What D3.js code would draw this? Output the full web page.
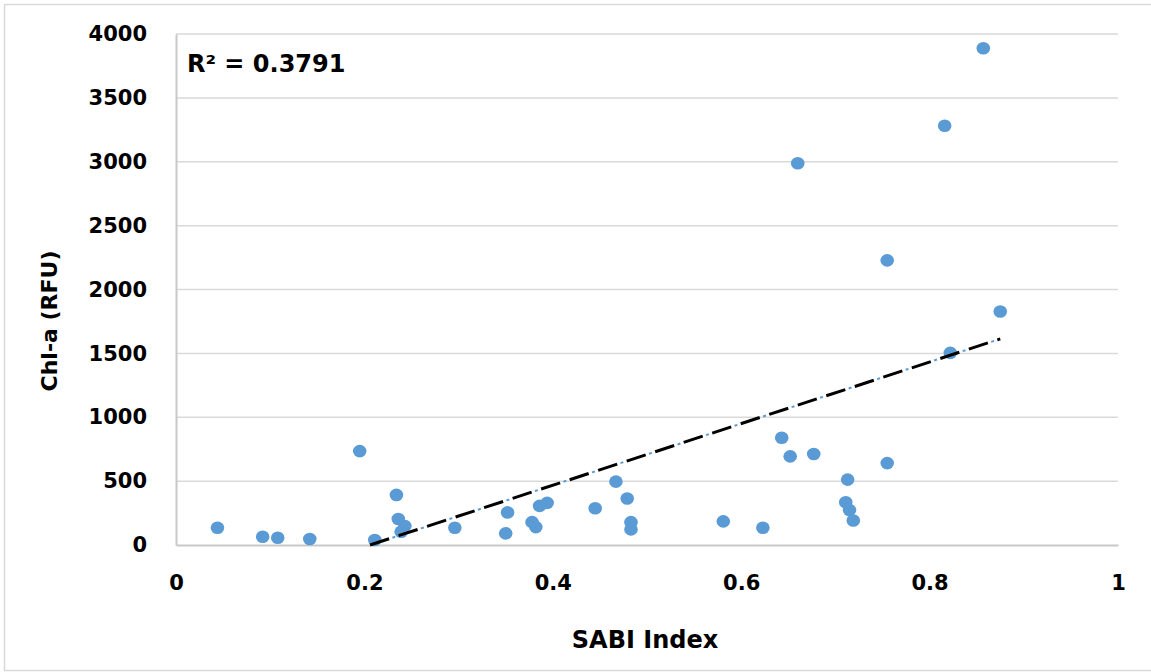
<!DOCTYPE html>
<html>
<head>
<meta charset="utf-8">
<script src="https://cdn.jsdelivr.net/npm/d3@7"></script>
<style>
  body { margin: 0; background: #fff; }
  text { font-family: "DejaVu Sans", sans-serif; font-weight: bold; fill: #000; }
</style>
</head>
<body>
<div id="chart-area"></div>
<script>
// SABI index vs Chl-a
const sabi = [0.044, 0.092, 0.108, 0.142, 0.195, 0.211, 0.234, 0.236, 0.243, 0.239,
  0.296, 0.350, 0.352, 0.378, 0.382, 0.386, 0.394, 0.445, 0.467, 0.479,
  0.483, 0.483, 0.581, 0.623, 0.643, 0.652, 0.677, 0.713, 0.711, 0.715,
  0.719, 0.755, 0.857, 0.816, 0.660, 0.755, 0.875, 0.822]
const chla = [135, 65, 57, 47, 735, 39, 392, 203, 148, 104,
  135, 91, 255, 179, 140, 306, 330, 288, 496, 364,
  179, 122, 185, 135, 839, 694, 712, 512, 335, 273,
  192, 641, 3888, 3282, 2988, 2228, 1828, 1504]
const xTicks = [0, 0.2, 0.4, 0.6, 0.8, 1]
const yTicks = [0, 500, 1000, 1500, 2000, 2500, 3000, 3500, 4000]
const r2Label = "R² = 0.3791"

function main() {
  const W = 1151, H = 672
  const MARGIN = { LEFT: 176, RIGHT: 33, TOP: 34, BOTTOM: 127 }
  const WIDTH = W - MARGIN.LEFT - MARGIN.RIGHT
  const HEIGHT = H - MARGIN.TOP - MARGIN.BOTTOM

  const svg = d3.select("#chart-area").append("svg")
    .attr("width", W)
    .attr("height", H)

  // outer chart border
  svg.append("rect")
    .attr("x", 4.5).attr("y", 4.5)
    .attr("width", W).attr("height", H - 6)
    .attr("fill", "none")
    .attr("stroke", "#d9d9d9")
    .attr("stroke-width", 1.5)

  const g = svg.append("g")
    .attr("transform", `translate(${MARGIN.LEFT}, ${MARGIN.TOP})`)

  const x = d3.scaleLinear().domain([0, 1]).range([0, WIDTH])
  const y = d3.scaleLinear().domain([0, 4000]).range([HEIGHT, 0])

  // gridlines
  g.append("g")
    .selectAll("line")
    .data(yTicks.slice(1))
    .join("line")
    .attr("x1", 0).attr("x2", WIDTH)
    .attr("y1", d => y(d)).attr("y2", d => y(d))
    .attr("stroke", "#d9d9d9")
    .attr("stroke-width", 1.5)

  // axes
  const xAxisCall = d3.axisBottom(x).tickValues(xTicks).tickSize(0).tickPadding(30).tickFormat(d => d)
  const xAxis = g.append("g")
    .attr("class", "x axis")
    .attr("transform", `translate(0, ${HEIGHT})`)
    .call(xAxisCall)
  xAxis.select(".domain").attr("stroke", "#c8c8c8").attr("stroke-width", 2)
  xAxis.selectAll("text").attr("font-size", "21px").attr("font-family", "DejaVu Sans")

  const yAxisCall = d3.axisLeft(y).tickValues(yTicks).tickSize(0).tickPadding(29).tickFormat(d => d)
  const yAxis = g.append("g")
    .attr("class", "y axis")
    .call(yAxisCall)
  yAxis.select(".domain").attr("stroke", "#c8c8c8").attr("stroke-width", 2)
  yAxis.selectAll("text").attr("font-size", "21px").attr("font-family", "DejaVu Sans")

  // linear trendline (least squares), clipped at y = 0
  const n = sabi.length
  const mx = d3.mean(sabi), my = d3.mean(chla)
  let sxy = 0, sxx = 0
  for (let i = 0; i < n; i++) {
    sxy += (sabi[i] - mx) * (chla[i] - my)
    sxx += (sabi[i] - mx) ** 2
  }
  const slope = sxy / sxx
  const icpt = my - slope * mx
  const x0 = Math.max(d3.min(sabi), -icpt / slope)
  const x1 = d3.max(sabi)
  const trend = [[x0, icpt + slope * x0], [x1, icpt + slope * x1]]
  const line = d3.line().x(d => x(d[0])).y(d => y(d[1]))

  // points
  g.append("g")
    .selectAll("ellipse")
    .data(sabi.map((d, i) => [d, chla[i]]))
    .join("ellipse")
    .attr("cx", d => x(d[0]))
    .attr("cy", d => y(d[1]))
    .attr("rx", 6.8)
    .attr("ry", 6.3)
    .attr("fill", "#5b9bd5")

  g.append("path")
    .attr("d", line(trend))
    .attr("fill", "none")
    .attr("stroke", "#5b9bd5")
    .attr("stroke-width", 2)
    .attr("stroke-dasharray", "3,27")
    .attr("stroke-dashoffset", 6.5)
  g.append("path")
    .attr("d", line(trend))
    .attr("fill", "none")
    .attr("stroke", "#000")
    .attr("stroke-width", 3)
    .attr("stroke-dasharray", "20,10")

  // R² label
  g.append("text")
    .attr("x", 11)
    .attr("y", 38)
    .attr("font-size", "24px")
    .text(r2Label)

  // X label
  svg.append("text")
    .attr("x", 645)
    .attr("y", 648)
    .attr("font-size", "24px")
    .attr("text-anchor", "middle")
    .text("SABI Index")

  // Y label
  svg.append("text")
    .attr("transform", "translate(57, 321) rotate(-90)")
    .attr("font-size", "22px")
    .attr("text-anchor", "middle")
    .text("Chl-a (RFU)")
}

main()
</script>
</body>
</html>
